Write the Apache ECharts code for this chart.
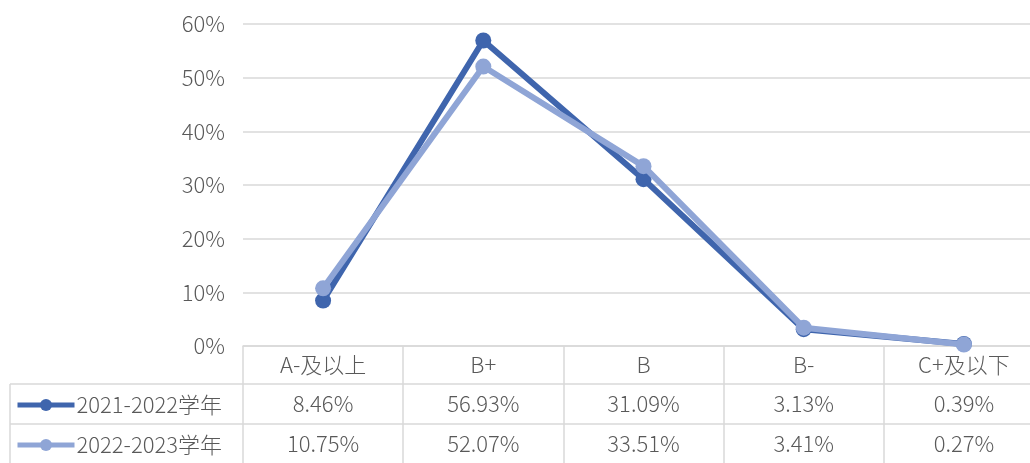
<!DOCTYPE html>
<html>
<head>
<meta charset="utf-8">
<script src="https://cdn.jsdelivr.net/npm/echarts@6/dist/echarts.min.js"></script>
<style>
html,body{margin:0;padding:0;background:#fff;}
#main{width:1030px;height:463px;}
</style>
</head>
<body>
<div id="main"></div>
<script>
const categories = ['A-及以上', 'B+', 'B', 'B-', 'C+及以下'];
const seriesNames = ['2021-2022学年', '2022-2023学年'];
const values2122 = [8.46, 56.93, 31.09, 3.13, 0.39];
const values2223 = [10.75, 52.07, 33.51, 3.41, 0.27];
const yTicks = { min: 0, max: 60, interval: 10 };

const FONT = '"Noto Sans CJK SC", "Noto Sans", sans-serif';
const FS = 22;
const FW = 300;
const TXT = '#595959';
const GRIDC = '#d9d9d9';
const colors = ['#3f65ad', '#8fa5d6'];

const chart = echarts.init(document.getElementById('main'));
const legendBase = {
  orient: 'horizontal', left: 15, padding: 0,
  itemWidth: 57, itemHeight: 15,
  lineStyle: { width: 5 },
  textStyle: { color: TXT, fontSize: FS, fontFamily: FONT, fontWeight: FW, padding: [0, 0, 0, -3] }
};
const option = {
  animation: false,
  backgroundColor: '#fff',
  grid: { left: 243, width: 801, top: 24, bottom: 117, containLabel: false, outerBoundsMode: 'none' },
  legend: [
    Object.assign({}, legendBase, { top: 394, data: [seriesNames[0]] }),
    Object.assign({}, legendBase, { top: 434, data: [seriesNames[1]] })
  ],
  xAxis: {
    type: 'category', data: categories, boundaryGap: true,
    axisLine: { show: true, lineStyle: { color: GRIDC, width: 1.5 } },
    axisTick: { show: true, interval: 0, length: 117, lineStyle: { color: GRIDC, width: 1.5 } },
    axisLabel: { color: TXT, fontSize: FS, fontFamily: FONT, fontWeight: FW, margin: 8, interval: 0 }
  },
  yAxis: {
    type: 'value', min: yTicks.min, max: yTicks.max, interval: yTicks.interval,
    axisLine: { show: false }, axisTick: { show: false },
    axisLabel: { color: TXT, fontSize: FS, fontFamily: FONT, fontWeight: FW, margin: 18, formatter: '{value}%' },
    splitLine: { lineStyle: { color: GRIDC, width: 1.5 } }
  },
  series: [
    { name: seriesNames[0], type: 'line', data: values2122, symbol: 'circle', symbolSize: 16,
      lineStyle: { width: 6, color: colors[0] }, itemStyle: { color: colors[0] }, z: 2 },
    { name: seriesNames[1], type: 'line', data: values2223, symbol: 'circle', symbolSize: 16,
      lineStyle: { width: 6, color: colors[1] }, itemStyle: { color: colors[1] }, z: 3 }
  ]
};
chart.setOption(option);

// data table built from the axes' own scales
const y0 = chart.convertToPixel({ yAxisIndex: 0 }, 0);
const rowTop1 = y0 + 38, rowTop2 = rowTop1 + 40, rowBot = rowTop2 + 40;
const xRight = 1044;
const fmt = v => v.toFixed(2) + '%';
const g = [];
const line = (x1, y1, x2, y2) => g.push({ type: 'line', shape: { x1, y1, x2, y2 }, style: { stroke: GRIDC, lineWidth: 1.5 }, silent: true });
line(10, rowTop1, xRight, rowTop1);
line(10, rowTop2, xRight, rowTop2);
line(10, rowBot, xRight, rowBot);
line(10, rowTop1, 10, rowBot);
[values2122, values2223].forEach((arr, r) => {
  const cy = (r === 0 ? rowTop1 : rowTop2) + 20;
  arr.forEach((v, i) => {
    const cx = chart.convertToPixel({ xAxisIndex: 0 }, i);
    g.push({ type: 'text', x: cx, y: cy, silent: true,
      style: { text: fmt(v), fill: TXT, font: FW + ' ' + FS + 'px ' + FONT, align: 'center', verticalAlign: 'middle' } });
  });
});
chart.setOption({ graphic: g });
</script>
</body>
</html>
